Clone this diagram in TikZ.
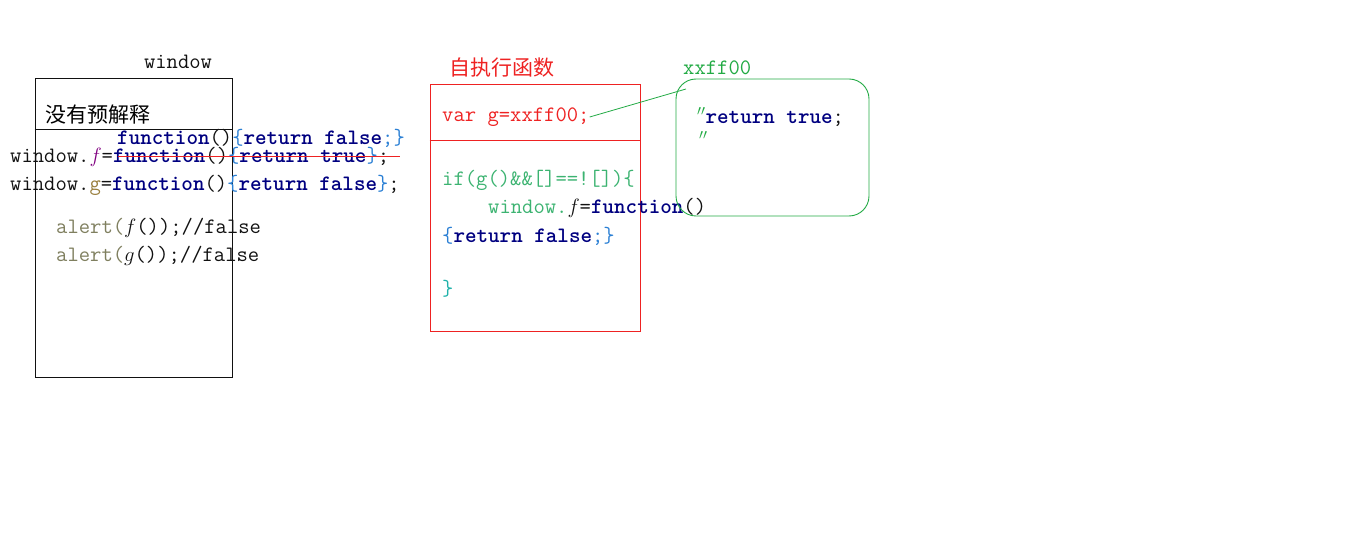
\documentclass[tikz,border=0pt]{standalone}
\usepackage{fontspec}
\newfontfamily\cjk{Noto Sans CJK SC}
\usepackage{xcolor}
\usetikzlibrary{positioning}
\definecolor{ink}{HTML}{111111}
\definecolor{navy}{HTML}{000080}
\definecolor{brace}{HTML}{2A7FD4}
\definecolor{fred}{HTML}{EE2222}
\definecolor{heapgreen}{HTML}{22AA44}
\definecolor{codegreen}{HTML}{3CB371}
\definecolor{teal}{HTML}{20B2AA}
\definecolor{olive}{HTML}{7F7F5F}
\definecolor{fpurple}{HTML}{800080}
\definecolor{gbrown}{HTML}{9A8040}
\newcommand\kw[1]{\textcolor{navy}{\bfseries #1}}
\newcommand\br[1]{\textcolor{brace}{#1}}
\tikzset{
  code/.style={font=\ttfamily\fontsize{22}{26}\selectfont, text=ink, inner sep=0pt, anchor=west},
  cn/.style={font=\cjk\fontsize{21}{24}\selectfont, inner sep=0pt, anchor=west},
  frame/.style={draw=ink, line width=0.8pt, inner sep=0pt},
  redframe/.style={draw=fred, line width=0.9pt, inner sep=0pt},
  heap/.style={draw=heapgreen, line width=0.9pt, rounded corners=20pt, inner sep=0pt},
  link/.style={draw=heapgreen, line width=0.8pt},
  strike/.style={draw=fred, line width=1pt},
}
\begin{document}
\begin{tikzpicture}[x=1pt,y=-1pt]
  \useasboundingbox (0,0) rectangle (1360,540);
  % global scope
  \node[code, anchor=center] (winlab) at (178,62) {window};
  \node[frame, minimum width=197pt, minimum height=299pt] (win) at (133.5,227.5) {};
  \draw[frame] (win.west |- 0,129) -- (win.east |- 0,129);
  \node[cn] (nopre) at (45,115) {没有预解释};
  \node[code] (fnew) at (117,138) {\kw{function}()\br{\{}\kw{return false}\br{;\}}};
  \node[code] (fdef) at (10,157) {window.\textcolor{fpurple}{$f$}=\kw{function}()\br{\{}\kw{return true}\br{\}};};
  \node[code] (gdef) at (10,185) {window.\textcolor{gbrown}{g}=\kw{function}()\br{\{}\kw{return false}\br{\}};};
  \node[code] (af) at (56,228) {\textcolor{olive}{alert(}$f$());//false};
  \node[code] (ag) at (56,256) {\textcolor{olive}{alert(}$g$());//false};
  \coordinate (s1) at (118,157);
  \coordinate (s2) at (400,157);
  \draw[strike] (s1) -- (s2);
  % self-executing function
  \node[cn, text=fred] (selflab) at (449,68) {自执行函数};
  \node[redframe, minimum width=210pt, minimum height=247pt] (self) at (535,207.5) {};
  \draw[redframe] (self.west |- 0,140) -- (self.east |- 0,140);
  \node[code, text=fred] (varg) at (442,117) {var g=xxff00;};
  \node[code, text=codegreen] (ifl) at (442,180) {if(g()\&\&[]==![])\{};
  \node[code] (fset) at (488,208) {\textcolor{codegreen}{window.}$f$=\kw{function}()};
  \node[code] (fbody) at (442,236) {\br{\{}\kw{return false}\br{;\}}};
  \node[code, text=teal] (endif) at (442,289) {\}};
  % heap object
  \node[code, text=heapgreen] (heaplab) at (683,68) {xxff00};
  \node[heap, minimum width=193pt, minimum height=137pt] (obj) at (772.5,147.5) {};
  \node[code] (ret) at (697,117) {\textcolor{heapgreen}{$''$}\kw{return true};};
  \node[code, text=heapgreen] (q2) at (699,139) {$''$};
  \coordinate (ref) at (686,89);
  \draw[link] (varg.east) -- (ref);
\end{tikzpicture}
\end{document}
